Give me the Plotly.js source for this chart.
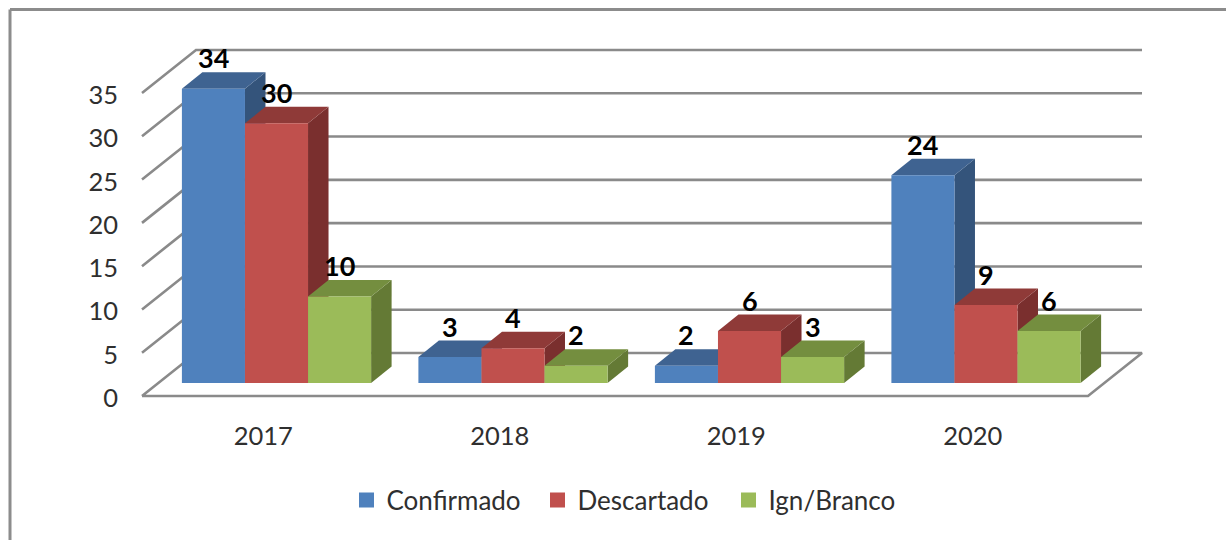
<!DOCTYPE html>
<html><head><meta charset="utf-8">
<script src="https://cdn.plot.ly/plotly-3.0.1.min.js"></script>
<style>html,body{margin:0;padding:0;background:#fff}#c{width:1226px;height:540px}</style>
</head><body><div id="c"></div>
<script>
const years = ['2017','2018','2019','2020'];
const seriesNames = ['Confirmado','Descartado','Ign/Branco'];
const confirmado = [34,3,2,24];
const descartado = [30,4,6,9];
const ignBranco = [10,2,3,6];
const gridValues = [0,5,10,15,20,25,30,35];
const frontColors = ['#4f81bd','#c0504d','#9bbb59'];
const topColors = ['#3f6391','#8f3a38','#748e3f'];
const sideColors = ['#34547b','#7a2f2e','#647a35'];
const gridColor = '#8a8a8a';
const textColor = '#2f2f2f';
const font = 'Lato, Carlito, sans-serif';

const values = [confirmado, descartado, ignBranco];
const positions = years.map((_, i) => i);

// plot frame in pixels
const W = 1226, H = 540, L = 122, R = 1150, T = 20, B = 418;
const xUnit = 236.5, yUnit = 8.657;
const x0px = 260.25, y0px = 396;
const xRange = [(L - x0px) / xUnit, (R - x0px) / xUnit];
const yRange = [(y0px - B) / yUnit, (y0px - T) / yUnit];

// pseudo-3D offsets, in axis units
const wallDX = 54 / xUnit, wallDY = 43 / yUnit;    // floor depth
const planeDX = 16.25 / xUnit, planeDY = 13 / yUnit; // bars stand this far into the floor
const barDX = 20.5 / xUnit, barDY = 16.5 / yUnit;    // depth of a bar
const barW = 0.8 / 3;

const traces = [];
// back wall and floor lines
gridValues.forEach(v => {
  const xs = [-0.5, -0.5 + wallDX, 3.5 + wallDX];
  const ys = [v, v + wallDY, v + wallDY];
  if (v === 0) { xs.push(3.5, -0.5); ys.push(v, v); }
  traces.push({type:'scatter', mode:'lines', x:xs, y:ys, xaxis:'x', yaxis:'y',
    line:{color:gridColor, width:2.6}, hoverinfo:'skip', showlegend:false});
});
// top and side faces of each bar, painted group by group
positions.forEach(i => {
  values.forEach((vals, s) => {
    const v = vals[i];
    const xl = i + planeDX + (s - 1.5) * barW, xr = xl + barW;
    const yb = planeDY, yt = planeDY + v;
    traces.push({type:'scatter', mode:'lines', fill:'toself', fillcolor:sideColors[s],
      x:[xr, xr + barDX, xr + barDX, xr, xr], y:[yb, yb + barDY, yt + barDY, yt, yb],
      xaxis:'x', yaxis:'y', line:{width:0, color:sideColors[s]}, hoverinfo:'skip', showlegend:false});
    traces.push({type:'scatter', mode:'lines', fill:'toself', fillcolor:topColors[s],
      x:[xl, xr, xr + barDX, xl + barDX, xl], y:[yt, yt, yt + barDY, yt + barDY, yt],
      xaxis:'x', yaxis:'y', line:{width:0, color:topColors[s]}, hoverinfo:'skip', showlegend:false});
  });
});
// legend keys: square markers of the size seen in the picture
seriesNames.forEach((name, s) => {
  traces.push({type:'scatter', mode:'markers', name, x:[null], y:[null], xaxis:'x', yaxis:'y',
    marker:{symbol:'square', size:15, color:frontColors[s], line:{width:0}}});
});
// front faces: real bars on an overlay axis pair shifted into the bar plane
values.forEach((vals, s) => {
  traces.push({type:'bar', name:seriesNames[s], x:positions, y:vals, xaxis:'x2', yaxis:'y2',
    marker:{color:frontColors[s], line:{width:0}}, showlegend:false});
});

const annotations = [];
values.forEach((vals, s) => vals.forEach((v, i) => {
  annotations.push({xref:'x2', yref:'y2', x:i + (s - 1) * barW, y:v, text:String(v), showarrow:false,
    yshift:31, xanchor:'center', yanchor:'middle',
    font:{family:font, size:27, color:'#000', weight:700}});
}));

const frameColor = '#8c8c8c';
const layout = {
  width:W, height:H, autosize:false,
  margin:{l:L, r:W - R, t:T, b:H - B, pad:0},
  paper_bgcolor:'#fff', plot_bgcolor:'rgba(0,0,0,0)',
  showlegend:true, barmode:'group', bargap:0.2, bargroupgap:0,
  font:{family:font, color:textColor},
  xaxis:{range:xRange, tickmode:'array', tickvals:positions, ticktext:years, showgrid:false, zeroline:false,
    showline:false, ticks:'', tickfont:{family:font, size:25.5, color:textColor}, ticklabelshift:3, fixedrange:true},
  yaxis:{range:yRange, tickmode:'array', tickvals:gridValues, showgrid:false, zeroline:false,
    showline:false, ticks:'', tickfont:{family:font, size:25.5, color:textColor}, ticklabelstandoff:3, ticklabelshift:2, fixedrange:true},
  xaxis2:{overlaying:'x', anchor:'y2', range:[xRange[0] - planeDX, xRange[1] - planeDX], visible:false, fixedrange:true},
  yaxis2:{overlaying:'y', anchor:'x2', range:[yRange[0] - planeDY, yRange[1] - planeDY], visible:false, fixedrange:true},
  legend:{orientation:'h', x:(633 - L) / (R - L), xanchor:'center', y:(B - 500) / (B - T), yanchor:'middle',
    font:{family:font, size:26, color:textColor}, bgcolor:'rgba(0,0,0,0)', entrywidth:146, entrywidthmode:'pixels'},
  shapes:[
    {type:'line', xref:'paper', yref:'paper', x0:-(L - 10) / (R - L), x1:(W - L) / (R - L),
      y0:(B - 9.5) / (B - T), y1:(B - 9.5) / (B - T), line:{color:frameColor, width:3}},
    {type:'line', xref:'paper', yref:'paper', x0:-(L - 10) / (R - L), x1:-(L - 10) / (R - L),
      y0:(B - 9.5) / (B - T), y1:(B - H) / (B - T), line:{color:frameColor, width:3}}
  ],
  annotations
};
Plotly.newPlot('c', traces, layout, {displayModeBar:false, staticPlot:true});
</script></body></html>
